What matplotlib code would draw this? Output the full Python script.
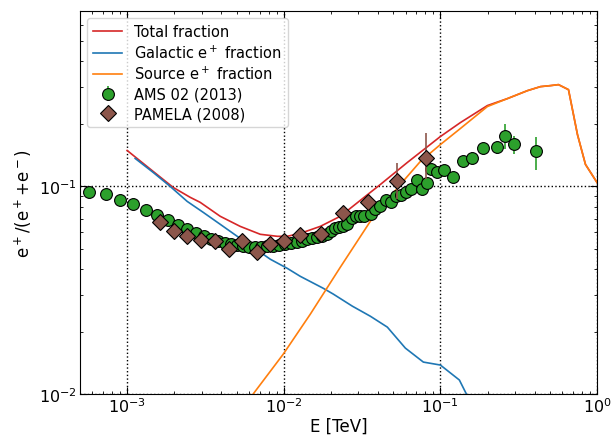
import matplotlib
matplotlib.use("Agg")
import matplotlib.pyplot as plt
import numpy as np

# ---- data ----
total_E = [1.0e-3, 1.466e-3, 1.967e-3, 2.527e-3, 2.927e-3, 3.928e-3, 5.27e-3, 7.08e-3, 9.09e-3,
           1.053e-2, 1.274e-2, 1.711e-2, 2.296e-2, 3.083e-2, 4.14e-2, 6.15e-2, 0.100, 0.1342,
           0.1996, 0.268, 0.3597, 0.4355, 0.5047, 0.5675, 0.6577, 0.7504, 0.8443, 1.0]
total_f = [0.1490, 0.1181, 0.0989, 0.0886, 0.0838, 0.0718, 0.0642, 0.0588, 0.0575,
           0.0575, 0.0594, 0.0642, 0.0718, 0.0857, 0.1022, 0.1304, 0.1739, 0.2030,
           0.2452, 0.2649, 0.2893, 0.3025, 0.3059, 0.3093, 0.2925, 0.1778, 0.1276, 0.1045]

gal_E = [1.125e-3, 1.466e-3, 1.883e-3, 2.417e-3, 3.06e-3, 3.928e-3, 5.045e-3, 6.385e-3, 8.2e-3,
         1.053e-2, 1.274e-2, 1.788e-2, 2.07e-2, 2.74e-2, 3.57e-2, 4.585e-2, 5.975e-2, 7.785e-2,
         0.100, 0.1322, 0.1466, 0.1555]
gal_f = [0.1364, 0.1168, 0.1000, 0.0847, 0.0750, 0.0657, 0.0575, 0.0509, 0.0446,
         0.0403, 0.0369, 0.0323, 0.0303, 0.0265, 0.0237, 0.0210, 0.01664, 0.01425,
         0.01379, 0.01168, 0.0100, 0.00895]

src_E = [5.93e-3, 9.93e-3, 1.477e-2, 2.296e-2, 3.57e-2, 5.55e-2, 7.45e-2, 0.100, 0.1342,
         0.1996, 0.268, 0.3597, 0.4355, 0.5047, 0.5675, 0.6577, 0.7504, 0.8443, 1.0]
src_f = [0.0093, 0.01557, 0.02424, 0.0408, 0.0679, 0.1022, 0.1319, 0.1591, 0.1901,
         0.2425, 0.2649, 0.2893, 0.3025, 0.3059, 0.3093, 0.2925, 0.1778, 0.1276, 0.1045]

ams_E = [5.71e-4, 7.34e-4, 9.02e-4, 1.092e-3, 1.322e-3, 1.555e-3, 1.828e-3, 2.118e-3, 2.417e-3,
         2.76e-3, 3.10e-3, 3.44e-3, 3.815e-3, 4.23e-3, 4.62e-3, 5.05e-3, 5.51e-3, 6.02e-3,
         6.58e-3, 7.18e-3, 7.85e-3, 8.57e-3, 9.36e-3, 1.022e-2, 1.117e-2, 1.220e-2, 1.312e-2,
         1.413e-2, 1.52e-2, 1.637e-2, 1.762e-2, 1.897e-2, 2.01e-2, 2.13e-2, 2.26e-2, 2.40e-2,
         2.545e-2, 2.74e-2, 2.90e-2, 3.08e-2, 3.27e-2, 3.62e-2, 3.84e-2, 4.14e-2, 4.52e-2,
         4.86e-2, 5.24e-2, 5.64e-2, 6.07e-2, 6.53e-2, 7.13e-2, 7.67e-2, 8.26e-2, 8.76e-2,
         9.57e-2, 0.1060, 0.1211, 0.1403, 0.1601, 0.1883, 0.2313, 0.2602, 0.2971, 0.4105]
ams_f = [0.0936, 0.0915, 0.0857, 0.0819, 0.0767, 0.0725, 0.0686, 0.0649, 0.0621,
         0.0594, 0.0575, 0.0556, 0.0544, 0.0532, 0.0526, 0.0520, 0.0515, 0.0509,
         0.0509, 0.0509, 0.0515, 0.0515, 0.0520, 0.0526, 0.0532, 0.0538, 0.0544,
         0.0556, 0.0562, 0.0569, 0.0575, 0.0588, 0.0608, 0.0628, 0.0635, 0.0642,
         0.0657, 0.0702, 0.0718, 0.0718, 0.0718, 0.0734, 0.0775, 0.0801, 0.0857,
         0.0838, 0.0895, 0.0905, 0.0936, 0.0967, 0.1069, 0.0967, 0.1034, 0.1207,
         0.1168, 0.1194, 0.1105, 0.1319, 0.1364, 0.1523, 0.1557, 0.1759, 0.1592, 0.1474]
ams_err_lo = [0.0005, 0.0005, 0.0005, 0.0005, 0.0005, 0.0005, 0.0005, 0.0005, 0.0005,
              0.0005, 0.0005, 0.0005, 0.0005, 0.0005, 0.0005, 0.0005, 0.0005, 0.0005,
              0.0005, 0.0005, 0.0005, 0.0005, 0.0005, 0.0005, 0.0005, 0.0005, 0.0005,
              0.0006, 0.0006, 0.0006, 0.0006, 0.0007, 0.0007, 0.0008, 0.0008, 0.0009,
              0.0010, 0.0011, 0.0012, 0.0013, 0.0014, 0.0015, 0.0016, 0.0018, 0.0020,
              0.0022, 0.0025, 0.0028, 0.0030, 0.0033, 0.0037, 0.0040, 0.0045, 0.0050,
              0.0055, 0.0060, 0.0065, 0.0071, 0.0074, 0.0098, 0.0132, 0.0252, 0.0167, 0.0280]
ams_err_hi = [0.0005, 0.0005, 0.0005, 0.0005, 0.0005, 0.0005, 0.0005, 0.0005, 0.0005,
              0.0005, 0.0005, 0.0005, 0.0005, 0.0005, 0.0005, 0.0005, 0.0005, 0.0005,
              0.0005, 0.0005, 0.0005, 0.0005, 0.0005, 0.0005, 0.0005, 0.0005, 0.0005,
              0.0006, 0.0006, 0.0006, 0.0006, 0.0007, 0.0007, 0.0008, 0.0008, 0.0009,
              0.0010, 0.0011, 0.0012, 0.0013, 0.0014, 0.0015, 0.0016, 0.0018, 0.0020,
              0.0022, 0.0025, 0.0028, 0.0030, 0.0033, 0.0037, 0.0040, 0.0045, 0.0050,
              0.0055, 0.0060, 0.0065, 0.0075, 0.0093, 0.0067, 0.0070, 0.0250, 0.0165, 0.0265]

pam_E = [1.625e-3, 1.996e-3, 2.417e-3, 2.97e-3, 3.65e-3, 4.48e-3, 5.43e-3, 6.77e-3,
         8.20e-3, 1.007e-2, 1.274e-2, 1.737e-2, 2.40e-2, 3.47e-2, 5.31e-2, 8.14e-2]
pam_f = [0.0671, 0.0608, 0.0575, 0.0550, 0.0544, 0.0498, 0.0544, 0.0482,
         0.0526, 0.0544, 0.0581, 0.0588, 0.0742, 0.0838, 0.1057, 0.1364]
pam_err_lo = [0.0008, 0.0008, 0.0008, 0.0008, 0.0008, 0.0008, 0.0008, 0.0008,
              0.0009, 0.0010, 0.0012, 0.0015, 0.0025, 0.0045, 0.0191, 0.0284]
pam_err_hi = [0.0008, 0.0008, 0.0008, 0.0008, 0.0008, 0.0008, 0.0008, 0.0008,
              0.0009, 0.0010, 0.0012, 0.0015, 0.0025, 0.0045, 0.0233, 0.0436]

# ---- plot ----
fig = plt.figure(figsize=(6.14, 4.39), dpi=100)
ax = fig.add_axes([0.1303, 0.1002, 0.8420, 0.8725])

ax.plot(total_E, total_f, color='tab:red', lw=1.2, label='Total fraction')
ax.plot(gal_E, gal_f, color='tab:blue', lw=1.2, label='Galactic e$^+$ fraction')
ax.plot(src_E, src_f, color='tab:orange', lw=1.2, label='Source e$^+$ fraction')

ax.errorbar(ams_E, ams_f, yerr=[ams_err_lo, ams_err_hi], fmt='o', color='tab:green',
            mec='black', mew=0.8, ms=8.5, elinewidth=1.2, label='AMS 02 (2013)', zorder=4)
ax.errorbar(pam_E, pam_f, yerr=[pam_err_lo, pam_err_hi], fmt='D', color='tab:brown',
            mec='black', mew=0.8, ms=8, elinewidth=1.2, label='PAMELA (2008)', zorder=5)

ax.set_xscale('log')
ax.set_yscale('log')
ax.set_xlim(5e-4, 1.0)
ax.set_ylim(1e-2, 0.7)
ax.grid(True, which='major', color='black', linestyle=':', linewidth=1)
ax.tick_params(which='both', direction='in', top=True, right=True, labelsize=11.5)
ax.tick_params(which='major', length=5, pad=2)
ax.tick_params(which='minor', length=2.5)
ax.set_xlabel('E [TeV]', fontsize=12, labelpad=1)
ax.set_ylabel('e$^+$/(e$^+$+e$^-$)', fontsize=12, labelpad=4)
ax.legend(loc='upper left', fontsize=10.5, labelspacing=0.3)

fig.savefig('out.png', dpi=100)
